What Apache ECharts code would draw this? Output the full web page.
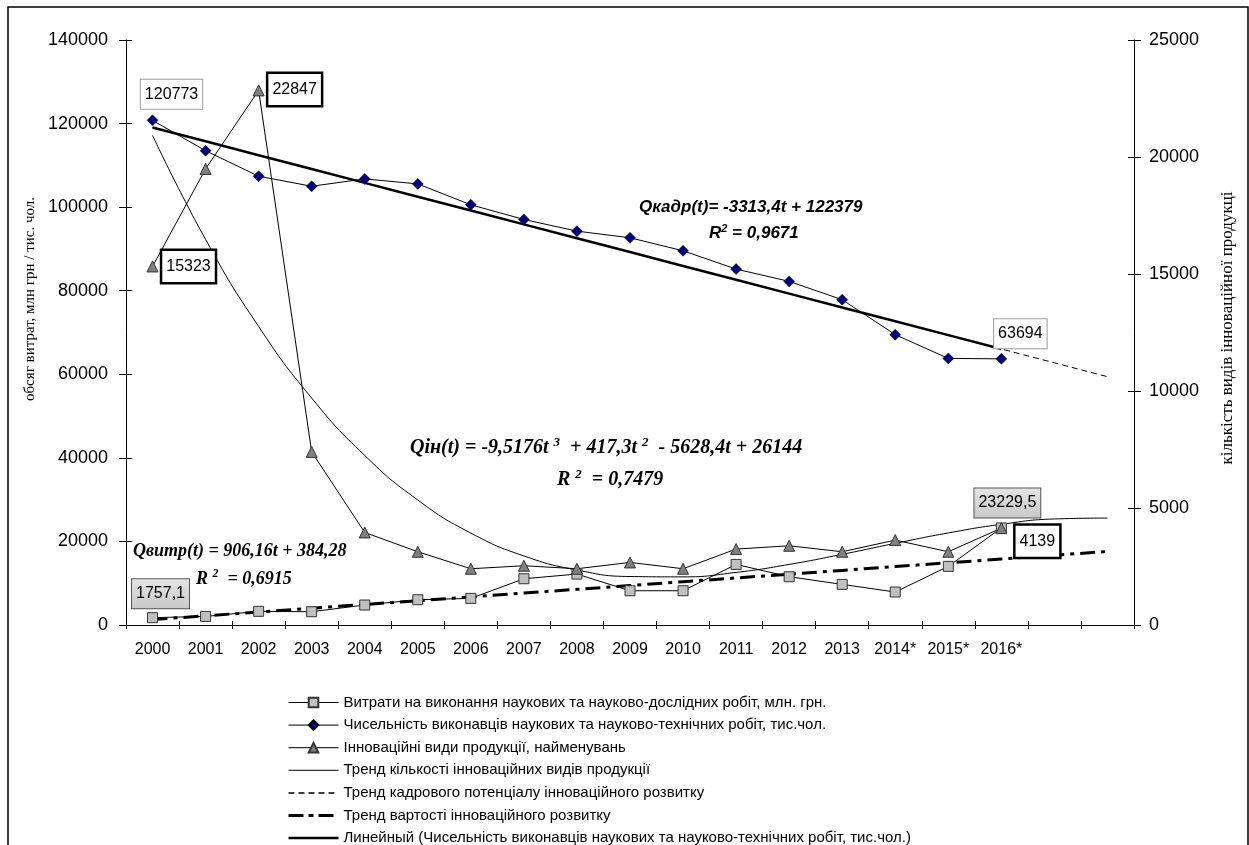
<!DOCTYPE html>
<html><head><meta charset="utf-8">
<script src="https://cdn.jsdelivr.net/npm/echarts@6/dist/echarts.min.js"></script>
<style>html,body{margin:0;padding:0;background:#fff}#c{width:1249px;height:845px}</style>
</head><body><div id="c"></div>
<script>
// ---- data ----
const categories = ['2000','2001','2002','2003','2004','2005','2006','2007','2008','2009','2010','2011','2012','2013','2014*','2015*','2016*','',''];
const leftTicks = [0, 20000, 40000, 60000, 80000, 100000, 120000, 140000];
const rightTicks = [0, 5000, 10000, 15000, 20000, 25000];
// Витрати на виконання наукових та науково-дослідних робіт, млн. грн. (left axis)
const spending = [1757.1, 2050, 3270, 3180, 4780, 6050, 6370, 11070, 12190, 8200, 8200, 14500, 11550, 9720, 7890, 14030, 23229.5];
// Чисельність виконавців наукових та науково-технічних робіт, тис.чол. (left axis)
const staff = [120773, 113500, 107400, 105000, 106760, 105560, 100560, 97050, 94260, 92670, 89560, 85180, 82230, 77850, 69480, 63800, 63694];
// Інноваційні види продукції, найменувань (right axis)
const innovations = [15323, 19490, 22847, 7397, 3955, 3130, 2404, 2532, 2404, 2674, 2404, 3244, 3386, 3130, 3628, 3130, 4139];
// Тренд кількості інноваційних видів продукції (right axis)
const innovTrend = [20923, 16480, 12757, 9698, 7245, 5341, 3928, 2951, 2351, 2072, 2057, 2248, 2589, 3021, 3489, 3934, 4301, 4532, 4570];
// Тренд кадрового потенціалу інноваційного розвитку (left axis)
const staffTrend = [119066, 115752, 112439, 109125, 105812, 102499, 99185, 95872, 92558, 89245, 85932, 82618, 79305, 75991, 72678, 69365, 66051, 62738, 59424];
// Тренд вартості інноваційного розвитку (left axis)
const spendingTrend = [1290, 2197, 3103, 4009, 4915, 5821, 6727, 7634, 8540, 9446, 10352, 11258, 12164, 13071, 13977, 14883, 15789, 16695, 17601];
// Линейный (Чисельність ...) (left axis)
const staffLinear = [119066, 115752, 112439, 109125, 105812, 102499, 99185, 95872, 92558, 89245, 85932, 82618, 79305, 75991, 72678, 69365, 66051];

const names = [
  'Витрати на виконання наукових та науково-дослідних робіт, млн. грн.',
  'Чисельність виконавців наукових та науково-технічних робіт, тис.чол.',
  'Інноваційні види продукції, найменувань',
  'Тренд кількості інноваційних видів продукції',
  'Тренд кадрового потенціалу інноваційного розвитку',
  'Тренд вартості інноваційного розвитку',
  'Линейный (Чисельність виконавців наукових та науково-технічних робіт, тис.чол.)'
];
const leftAxisName = 'обсяг витрат, млн грн / тис. чол.';
const rightAxisName = 'кількість видів інноваційної продукці';

const SANS = 'Liberation Sans, Arial, sans-serif';
const SERIF = 'Liberation Serif, Times New Roman, serif';
const fmt = p => String(p.value).replace('.', ',');
const boxThin = {show: true, position: 'inside', formatter: fmt, fontFamily: SANS, fontSize: 16, color: '#000',
  backgroundColor: '#fff', borderColor: '#9a9a9a', borderWidth: 1, padding: [7, 4, 6, 4]};
const boxThick = {show: true, position: 'inside', formatter: fmt, fontFamily: SANS, fontSize: 16, color: '#000',
  backgroundColor: '#fff', borderColor: '#000', borderWidth: 2.5, padding: [8, 4, 7, 4]};
const boxGray = {show: true, position: 'inside', formatter: fmt, fontFamily: SANS, fontSize: 16, color: '#000',
  backgroundColor: {type: 'linear', x: 0, y: 0, x2: 0, y2: 1, colorStops: [{offset: 0, color: '#e6e6e6'}, {offset: 1, color: '#c8c8c8'}]},
  borderColor: '#555', borderWidth: 1, padding: [7, 4, 6, 4]};

function withLabels(arr, labels) {
  return arr.map((v, i) => labels[i] ? {value: v, label: labels[i]} : v);
}
const last = 16;
const spendingData = withLabels(spending, {0: Object.assign({}, boxGray, {offset: [8, -24]}), [last]: Object.assign({}, boxGray, {offset: [6, -25]})});
const staffData = withLabels(staff, {0: Object.assign({}, boxThin, {offset: [19, -26]}), [last]: Object.assign({}, boxThin, {offset: [19, -25]})});
const innovData = withLabels(innovations, {0: Object.assign({}, boxThick, {offset: [36, 0]}), 2: Object.assign({}, boxThick, {offset: [36, -1]}), [last]: Object.assign({}, boxThick, {offset: [36, 13]})});

const axisLineStyle = {color: '#000', width: 1};
const plainNum = v => String(v);
const legendData = [
  {name: names[0], lineStyle: {width: 1}},
  {name: names[1], lineStyle: {width: 1}},
  {name: names[2], lineStyle: {width: 1}},
  {name: names[3], itemStyle: {opacity: 0}, lineStyle: {width: 1, type: 'solid'}},
  {name: names[4], itemStyle: {opacity: 0}, lineStyle: {width: 1.5, type: [6, 4]}},
  {name: names[5], itemStyle: {opacity: 0}, lineStyle: {width: 3, type: [15, 5, 5, 5]}},
  {name: names[6], itemStyle: {opacity: 0}, lineStyle: {width: 2.5, type: 'solid'}}
];

const richSerif = (size) => ({
  n: {fontFamily: SERIF, fontSize: size, fontWeight: 'bold', fontStyle: 'italic', color: '#000', lineHeight: size + 4},
  s: {fontFamily: SERIF, fontSize: Math.round(size * 0.65), fontWeight: 'bold', fontStyle: 'italic', color: '#000', verticalAlign: 'top', lineHeight: Math.round(size * 0.65)}
});
const richSans = (size) => ({
  n: {fontFamily: SANS, fontSize: size, fontWeight: 'bold', fontStyle: 'italic', color: '#000', lineHeight: size + 4},
  s: {fontFamily: SANS, fontSize: Math.round(size * 0.65), fontWeight: 'bold', fontStyle: 'italic', color: '#000', verticalAlign: 'top', lineHeight: Math.round(size * 0.65)}
});

const chart = echarts.init(document.getElementById('c'), null, {renderer: 'canvas'});
chart.setOption({
  animation: false,
  backgroundColor: '#fff',
  grid: {left: 126, right: 115, top: 40, bottom: 220, containLabel: false, outerBoundsMode: 'none'},
  xAxis: [
    {type: 'category', data: categories, position: 'bottom', boundaryGap: true,
      axisLine: {show: true, lineStyle: axisLineStyle},
      axisTick: {show: true, inside: false, length: 4, lineStyle: axisLineStyle},
      axisLabel: {interval: 0, margin: 17, fontFamily: SANS, fontSize: 16, color: '#000'},
      splitLine: {show: false}},
    {type: 'category', data: categories, position: 'bottom', boundaryGap: true,
      axisLine: {show: false}, axisTick: {show: true, inside: true, length: 4, lineStyle: axisLineStyle},
      axisLabel: {show: false}, splitLine: {show: false}}
  ],
  yAxis: [
    {type: 'value', position: 'left', min: leftTicks[0], max: leftTicks[leftTicks.length - 1], interval: 20000,
      axisLine: {show: true, lineStyle: axisLineStyle},
      axisTick: {show: true, inside: false, length: 7, lineStyle: axisLineStyle},
      axisLabel: {margin: 18, fontFamily: SANS, fontSize: 18, color: '#000', formatter: plainNum},
      splitLine: {show: false}},
    {type: 'value', position: 'right', min: rightTicks[0], max: rightTicks[rightTicks.length - 1], interval: 5000,
      axisLine: {show: true, lineStyle: axisLineStyle},
      axisTick: {show: true, inside: false, length: 7, lineStyle: axisLineStyle},
      axisLabel: {margin: 15, fontFamily: SANS, fontSize: 18, color: '#000', formatter: plainNum},
      splitLine: {show: false}},
    {type: 'value', position: 'left', min: 0, max: 140000, interval: 20000,
      axisLine: {show: false}, axisTick: {show: true, inside: true, length: 6, lineStyle: axisLineStyle},
      axisLabel: {show: false}, splitLine: {show: false}},
    {type: 'value', position: 'right', min: 0, max: 25000, interval: 5000,
      axisLine: {show: false}, axisTick: {show: true, inside: true, length: 6, lineStyle: axisLineStyle},
      axisLabel: {show: false}, splitLine: {show: false}}
  ],
  legend: {
    orient: 'vertical', left: 287, top: 695, height: 400, itemWidth: 50, itemHeight: 12, itemGap: 7.6,
    padding: 0,
    textStyle: {fontFamily: SANS, fontSize: 15, color: '#000', lineHeight: 15},
    data: legendData, selectedMode: false
  },
  series: [
    {name: names[3], type: 'line', yAxisIndex: 1, data: innovTrend, smooth: 0.5, symbol: 'none',
      lineStyle: {color: '#000', width: 1}, itemStyle: {color: '#000'}, z: 2},
    {name: names[4], type: 'line', yAxisIndex: 0, data: staffTrend, symbol: 'none',
      lineStyle: {color: '#000', width: 1, type: [6, 4]}, itemStyle: {color: '#000'}, z: 2},
    {name: names[5], type: 'line', yAxisIndex: 0, data: spendingTrend, symbol: 'none',
      lineStyle: {color: '#000', width: 3, type: [15, 6, 4, 6]}, itemStyle: {color: '#000'}, z: 2},
    {name: names[6], type: 'line', yAxisIndex: 0, data: staffLinear, symbol: 'none',
      lineStyle: {color: '#000', width: 2.5}, itemStyle: {color: '#000'}, z: 3},
    {name: names[0], type: 'line', yAxisIndex: 0, data: spendingData, symbol: 'rect', symbolSize: 10, showAllSymbol: true,
      lineStyle: {color: '#000', width: 1}, itemStyle: {color: '#c0c0c0', borderColor: '#333', borderWidth: 1}, z: 4},
    {name: names[1], type: 'line', yAxisIndex: 0, data: staffData, symbol: 'diamond', symbolSize: 11, showAllSymbol: true,
      lineStyle: {color: '#000', width: 1}, itemStyle: {color: '#000080', borderColor: '#000', borderWidth: 0.5}, z: 4},
    {name: names[2], type: 'line', yAxisIndex: 1, data: innovData, symbol: 'triangle', symbolSize: 11, showAllSymbol: true,
      lineStyle: {color: '#000', width: 1}, itemStyle: {color: '#808080', borderColor: '#333', borderWidth: 1}, z: 4}
  ],
  graphic: [
    {type: 'rect', shape: {x: 8, y: 7, width: 1240, height: 870}, style: {fill: 'none', stroke: '#000', lineWidth: 1.5}, z: -1, silent: true},
    {type: 'text', x: 30, y: 299, rotation: Math.PI / 2,
      style: {text: leftAxisName, align: 'center', verticalAlign: 'middle', font: '15px ' + SERIF, fill: '#000'}, z: 10},
    {type: 'text', x: 1228, y: 328, rotation: Math.PI / 2,
      style: {text: rightAxisName, align: 'center', verticalAlign: 'middle', font: '17px ' + SERIF, fill: '#000'}, z: 10},
    {type: 'text', left: 639, top: 199, style: {text: '{n|Qкадр(t)= -3313,4t + 122379}', rich: richSans(17)}, z: 10},
    {type: 'text', left: 709, top: 223, style: {text: '{n|R}{s|2}{n| = 0,9671}', rich: richSans(17)}, z: 10},
    {type: 'text', left: 410, top: 436, style: {text: '{n|Qін(t) = -9,5176t }{s|3}{n|  + 417,3t }{s|2}{n|  - 5628,4t + 26144}', rich: richSerif(20)}, z: 10},
    {type: 'text', left: 557, top: 468, style: {text: '{n|R }{s|2}{n|  = 0,7479}', rich: richSerif(20)}, z: 10},
    {type: 'text', left: 133, top: 542, style: {text: '{n|Qвитр(t) = 906,16t + 384,28}', rich: richSerif(18)}, z: 10},
    {type: 'text', left: 196, top: 568, style: {text: '{n|R }{s|2}{n|  = 0,6915}', rich: richSerif(18)}, z: 10}
  ]
});
</script></body></html>
